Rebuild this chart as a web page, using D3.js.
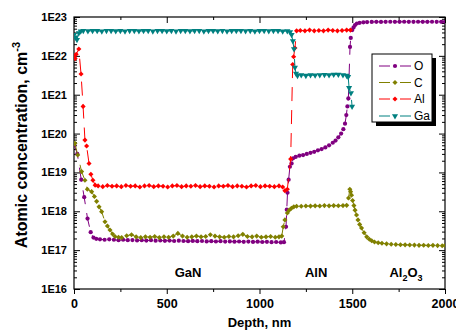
<!DOCTYPE html>
<html>
<head>
<meta charset="utf-8">
<script src="https://cdn.jsdelivr.net/npm/d3@7/dist/d3.min.js"></script>
<style>
  body { margin: 0; background: #fff; }
  text { font-family: Arial, "Liberation Sans", sans-serif; }
</style>
</head>
<body>
<svg id="chart" width="456" height="331"></svg>
<script>
// depth (nm), concentration (cm^-3)
const oxygen = [
  [2,5.0e19],[18,3.0e19],[39,6.5e18],[55,2.3e18],[73,6.5e17],[90,2.9e17],[105,2.1e17],[120,1.95e17],
  [140,1.9e17],[165,1.85e17],[190,1.9e17],[215,1.85e17],[240,1.8e17],[265,1.85e17],[290,1.8e17],[315,1.82e17],
  [340,1.78e17],[365,1.8e17],[390,1.76e17],[415,1.8e17],[440,1.75e17],[465,1.77e17],[490,1.74e17],[515,1.76e17],
  [540,1.72e17],[565,1.75e17],[590,1.72e17],[615,1.7e17],[640,1.73e17],[665,1.7e17],[690,1.72e17],[715,1.68e17],
  [740,1.7e17],[765,1.67e17],[790,1.7e17],[815,1.66e17],[840,1.68e17],[865,1.65e17],[890,1.67e17],[915,1.64e17],
  [940,1.66e17],[965,1.63e17],[990,1.65e17],[1015,1.62e17],[1040,1.64e17],[1065,1.6e17],[1090,1.62e17],[1115,1.58e17],
  [1132,1.6e17],[1143,4.0e17],[1147,1.1e18],[1151,3.0e18],[1157,6.5e18],[1164,1.4e19],[1173,1.7e19],[1181,2.3e19],
  [1195,2.5e19],[1215,2.7e19],[1235,2.8e19],[1255,3.0e19],[1275,3.2e19],[1295,3.4e19],[1315,3.7e19],[1335,4.0e19],
  [1355,4.4e19],[1375,5.0e19],[1395,5.8e19],[1410,6.6e19],[1425,8.0e19],[1440,1.0e20],[1452,1.3e20],[1461,1.8e20],
  [1468,3.0e20],[1474,5.0e20],[1479,8.0e20],[1488,1.7e22],[1492,2.9e22],[1500,4.6e22],[1507,5.4e22],[1515,6.2e22],
  [1525,6.8e22],[1540,7.1e22],[1560,7.3e22],[1580,7.4e22],[1605,7.45e22],[1630,7.5e22],[1655,7.45e22],[1680,7.5e22],
  [1705,7.55e22],[1730,7.5e22],[1755,7.5e22],[1780,7.55e22],[1805,7.5e22],[1830,7.5e22],[1855,7.55e22],[1880,7.5e22],
  [1905,7.5e22],[1930,7.55e22],[1955,7.5e22],[1980,7.5e22],[2000,7.55e22]
];

const carbon = [
  [0,5.5e19],[5,5.6e19],[20,2.8e19],[41,1.05e19],[59,6.3e18],[72,3.7e18],[95,3.2e18],[110,2.4e18],
  [122,1.8e18],[135,1.3e18],[149,9.8e17],[167,5.4e17],[180,4.2e17],[194,3.3e17],[208,2.6e17],[221,2.25e17],
  [240,2.15e17],[257,2.1e17],[284,2.35e17],[310,2.5e17],[335,2.2e17],[360,2.1e17],[385,2.2e17],[410,2.15e17],
  [435,2.25e17],[460,2.1e17],[485,2.2e17],[510,2.15e17],[535,2.3e17],[560,2.7e17],[585,2.3e17],[610,2.15e17],
  [635,2.2e17],[660,2.3e17],[685,2.2e17],[710,2.25e17],[735,2.5e17],[760,2.3e17],[785,2.2e17],[810,2.15e17],
  [835,2.25e17],[860,2.2e17],[885,2.35e17],[910,2.55e17],[935,2.25e17],[960,2.2e17],[985,2.3e17],[1010,2.15e17],
  [1035,2.2e17],[1060,2.25e17],[1085,2.15e17],[1105,2.2e17],[1120,2.3e17],[1128,4.0e17],[1137,6.0e17],[1150,9.0e17],
  [1160,1.07e18],[1172,1.2e18],[1185,1.3e18],[1200,1.35e18],[1225,1.35e18],[1250,1.37e18],[1275,1.36e18],[1300,1.38e18],
  [1325,1.37e18],[1350,1.4e18],[1375,1.38e18],[1400,1.4e18],[1425,1.39e18],[1450,1.4e18],[1470,1.42e18],[1480,2.2e18],
  [1487,3.7e18],[1491,3.2e18],[1496,2.6e18],[1502,1.9e18],[1509,1.4e18],[1515,1.07e18],[1523,8.0e17],[1531,6.0e17],
  [1540,4.6e17],[1550,3.7e17],[1564,2.8e17],[1578,2.2e17],[1592,1.9e17],[1605,1.75e17],[1620,1.62e17],[1640,1.55e17],
  [1660,1.5e17],[1685,1.45e17],[1710,1.42e17],[1735,1.4e17],[1760,1.38e17],[1785,1.37e17],[1810,1.36e17],[1835,1.35e17],
  [1860,1.33e17],[1885,1.34e17],[1910,1.32e17],[1935,1.33e17],[1960,1.31e17],[1985,1.3e17],[2000,1.32e17]
];

const aluminium = [
  [0,1.0e22],[6,8.5e21],[12,1.1e22],[26,1.5e22],[38,3.4e21],[49,5.0e20],[59,6.8e19],[68,4.8e19],
  [81,1.7e19],[91,9.0e18],[102,6.3e18],[114,4.7e18],[130,4.5e18],[155,4.3e18],[180,4.6e18],[205,4.4e18],
  [230,4.5e18],[255,4.3e18],[280,4.6e18],[305,4.4e18],[330,4.5e18],[355,4.2e18],[380,4.5e18],[405,4.6e18],
  [430,4.3e18],[455,4.5e18],[480,4.4e18],[505,4.2e18],[530,4.5e18],[555,4.6e18],[580,4.3e18],[605,4.5e18],
  [630,4.4e18],[655,4.6e18],[680,4.3e18],[705,4.5e18],[730,4.4e18],[755,4.2e18],[780,4.5e18],[805,4.4e18],
  [830,4.6e18],[855,4.3e18],[880,4.5e18],[905,4.4e18],[930,4.2e18],[955,4.5e18],[980,4.6e18],[1005,4.3e18],
  [1030,4.5e18],[1055,4.4e18],[1080,4.3e18],[1105,4.5e18],[1125,4.2e18],[1137,3.4e18],[1150,3.7e18],[1168,2.2e19],
  [1179,6.0e21],[1184,9.5e21],[1191,1.6e22],[1200,4.4e22],[1220,4.5e22],[1245,4.4e22],[1270,4.6e22],[1295,4.4e22],
  [1320,4.5e22],[1345,4.4e22],[1370,4.6e22],[1395,4.5e22],[1420,4.4e22],[1445,4.5e22],[1470,4.6e22],[1490,4.6e22]
];

const gallium = [
  [0,3.5e22],[8,3.0e22],[16,2.6e22],[26,3.9e22],[36,4.3e22],[50,4.4e22],[75,4.35e22],[100,4.45e22],
  [125,4.4e22],[150,4.3e22],[175,4.4e22],[200,4.45e22],[225,4.35e22],[250,4.4e22],[275,4.3e22],[300,4.4e22],
  [325,4.45e22],[350,4.35e22],[375,4.4e22],[400,4.4e22],[425,4.3e22],[450,4.45e22],[475,4.4e22],[500,4.35e22],
  [525,4.4e22],[550,4.3e22],[575,4.4e22],[600,4.45e22],[625,4.35e22],[650,4.4e22],[675,4.4e22],[700,4.3e22],
  [725,4.4e22],[750,4.45e22],[775,4.35e22],[800,4.4e22],[825,4.3e22],[850,4.4e22],[875,4.45e22],[900,4.4e22],
  [925,4.35e22],[950,4.4e22],[975,4.3e22],[1000,4.4e22],[1025,4.45e22],[1050,4.35e22],[1075,4.4e22],[1100,4.4e22],
  [1125,4.3e22],[1150,4.35e22],[1165,4.1e22],[1173,3.5e22],[1180,2.4e22],[1186,1.5e22],[1191,5.0e21],[1197,3.5e21],
  [1205,3.1e21],[1225,3.2e21],[1250,3.1e21],[1275,3.2e21],[1300,3.15e21],[1325,3.2e21],[1350,3.25e21],[1375,3.2e21],
  [1400,3.3e21],[1425,3.3e21],[1450,3.2e21],[1470,3.1e21],[1478,2.9e21],[1483,1.5e21],[1493,1.1e21],[1499,5.0e20]
];

const seriesNames = ["O", "C", "Al", "Ga"];
const seriesColors = ["#800080", "#808000", "#ff0000", "#008080"];
const xTicks = [0, 500, 1000, 1500, 2000];
const xMinorTicks = [250, 750, 1250, 1750];
const yTicks = [1e16, 1e17, 1e18, 1e19, 1e20, 1e21, 1e22, 1e23];
const yTickLabels = ["1E16", "1E17", "1E18", "1E19", "1E20", "1E21", "1E22", "1E23"];

const svg = d3.select("#chart");
const plotLeft = 74, plotRight = 445, plotTop = 17, plotBottom = 289;

const x = d3.scaleLinear().domain([0, 2000]).range([plotLeft, plotRight]);
const y = d3.scaleLog().domain([1e16, 1e23]).range([plotBottom, plotTop]);

// log minor ticks 2..9 in every decade
const yMinor = [];
yTicks.slice(0, -1).forEach(d => { for (let k = 2; k < 10; k++) yMinor.push(d * k); });

// axes
svg.append("g").attr("transform", `translate(${plotLeft},0)`)
  .call(d3.axisLeft(y).tickValues(yTicks).tickFormat((d, i) => yTickLabels[i]).tickSize(-6).tickPadding(7))
  .call(g => g.selectAll("text").attr("font-size", 11).attr("font-weight", "bold").attr("fill", "#000"));
svg.append("g").attr("transform", `translate(${plotLeft},0)`)
  .call(d3.axisLeft(y).tickValues(yMinor).tickFormat("").tickSize(-3));
svg.append("g").attr("transform", `translate(${plotRight},0)`)
  .call(d3.axisRight(y).tickValues(yTicks).tickFormat("").tickSize(-6));
svg.append("g").attr("transform", `translate(${plotRight},0)`)
  .call(d3.axisRight(y).tickValues(yMinor).tickFormat("").tickSize(-3));

svg.append("g").attr("transform", `translate(0,${plotBottom})`)
  .call(d3.axisBottom(x).tickValues(xTicks).tickFormat(d3.format("d")).tickSize(5).tickPadding(5.5))
  .call(g => g.selectAll("text").attr("font-size", 12.5).attr("font-weight", "bold").attr("fill", "#000"));
svg.append("g").attr("transform", `translate(0,${plotBottom})`)
  .call(d3.axisBottom(x).tickValues(xMinorTicks).tickFormat("").tickSize(3));
svg.append("g").attr("transform", `translate(0,${plotTop})`)
  .call(d3.axisTop(x).tickValues(xTicks).tickFormat("").tickSize(-6));
svg.append("g").attr("transform", `translate(0,${plotTop})`)
  .call(d3.axisTop(x).tickValues(xMinorTicks).tickFormat("").tickSize(-3));

svg.selectAll(".domain").remove();
svg.selectAll(".tick line").attr("stroke", "#000");

svg.append("rect")
  .attr("x", plotLeft).attr("y", plotTop).attr("width", plotRight - plotLeft).attr("height", plotBottom - plotTop)
  .attr("fill", "none").attr("stroke", "#000").attr("stroke-width", 1.2);

// series
svg.append("clipPath").attr("id", "plot-clip")
  .append("rect").attr("x", plotLeft).attr("y", plotTop).attr("width", plotRight - plotLeft).attr("height", plotBottom - plotTop);

const symbols = [
  d3.symbol().type(d3.symbolCircle).size(14),
  d3.symbol().type(d3.symbolSquare).size(13),
  d3.symbol().type(d3.symbolSquare).size(13),
  d3.symbol().type(d3.symbolTriangle).size(16)
];
const rotations = [0, 45, 45, 180];

const line = d3.line().x(d => x(d[0])).y(d => y(d[1]));
const plot = svg.append("g").attr("clip-path", "url(#plot-clip)");

[oxygen, carbon, aluminium, gallium].forEach((data, i) => {
  const g = plot.append("g");
  g.append("path").datum(data)
    .attr("d", line)
    .attr("fill", "none")
    .attr("stroke", seriesColors[i])
    .attr("stroke-width", 1)
    .attr("stroke-dasharray", "14,9");
  g.selectAll("path.pt").data(data).join("path")
    .attr("class", "pt")
    .attr("d", symbols[i])
    .attr("transform", d => `translate(${x(d[0])},${y(d[1])}) rotate(${rotations[i]})`)
    .attr("fill", seriesColors[i]);
});

// layer labels
const layers = svg.append("g").attr("font-size", 13).attr("font-weight", "bold");
layers.append("text").attr("x", x(615)).attr("y", 277).attr("text-anchor", "middle").text("GaN");
layers.append("text").attr("x", x(1305)).attr("y", 277).attr("text-anchor", "middle").text("AlN");
const al2o3 = layers.append("text").attr("x", x(1790)).attr("y", 277).attr("text-anchor", "middle");
al2o3.append("tspan").text("Al");
al2o3.append("tspan").attr("font-size", 9).attr("dy", 4).text("2");
al2o3.append("tspan").attr("dy", -4).text("O");
al2o3.append("tspan").attr("font-size", 9).attr("dy", 4).text("3");

// axis titles
svg.append("text")
  .attr("x", (plotLeft + plotRight) / 2).attr("y", 327)
  .attr("text-anchor", "middle").attr("font-size", 13).attr("font-weight", "bold")
  .text("Depth, nm");

const yTitle = svg.append("text")
  .attr("transform", "translate(27,145) rotate(-90)")
  .attr("text-anchor", "middle").attr("font-size", 16).attr("font-weight", "bold");
yTitle.append("tspan").text("Atomic concentration, cm");
yTitle.append("tspan").attr("font-size", 11).attr("dy", -7).text("-3");

// legend
const legend = svg.append("g");
legend.append("rect").attr("x", 376).attr("y", 58).attr("width", 60).attr("height", 68).attr("fill", "#000");
legend.append("rect").attr("x", 372).attr("y", 54).attr("width", 60).attr("height", 68)
  .attr("fill", "#fff").attr("stroke", "#000").attr("stroke-width", 1);
const rowY = [66, 82.5, 99, 116];
seriesNames.forEach((name, i) => {
  const row = legend.append("g").attr("transform", `translate(0,${rowY[i]})`);
  row.append("line").attr("x1", 379).attr("x2", 390).attr("stroke", seriesColors[i]);
  row.append("line").attr("x1", 400).attr("x2", 411).attr("stroke", seriesColors[i]);
  row.append("path").attr("d", symbols[i])
    .attr("transform", `translate(395,0) rotate(${rotations[i]})`)
    .attr("fill", seriesColors[i]);
  row.append("text").attr("x", 414).attr("dy", "0.36em").attr("font-size", 12).text(name);
});
</script>
</body>
</html>
